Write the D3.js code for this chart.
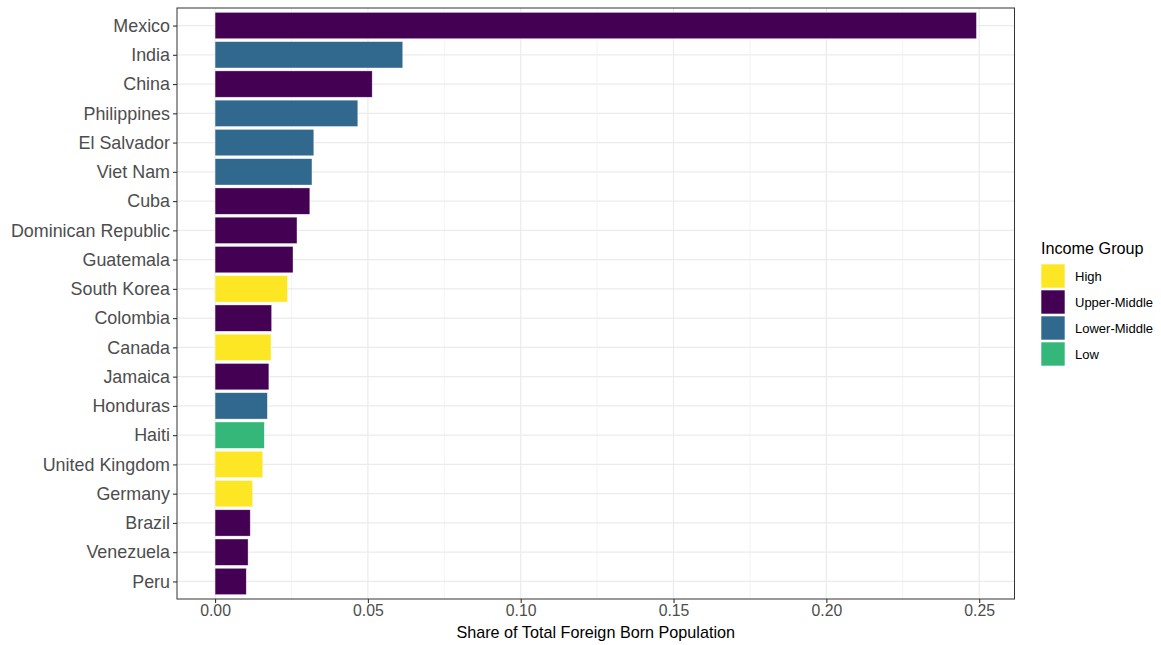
<!DOCTYPE html>
<html><head><meta charset="utf-8">
<script src="https://cdn.jsdelivr.net/npm/d3@7"></script>
<style>body{margin:0;background:#fff;} text{font-family:"Liberation Sans",Arial,Helvetica,sans-serif;}</style>
</head><body>
<svg id="chart" width="1161" height="645"></svg>
<script>
const countries = ["Mexico","India","China","Philippines","El Salvador","Viet Nam","Cuba","Dominican Republic","Guatemala","South Korea","Colombia","Canada","Jamaica","Honduras","Haiti","United Kingdom","Germany","Brazil","Venezuela","Peru"];
const shares = [0.2491,0.0614,0.0514,0.0467,0.0323,0.0317,0.0310,0.0268,0.0255,0.0237,0.0185,0.0183,0.0176,0.0171,0.0161,0.0156,0.0123,0.0115,0.0108,0.0102];
const groups = ["Upper-Middle","Lower-Middle","Upper-Middle","Lower-Middle","Lower-Middle","Lower-Middle","Upper-Middle","Upper-Middle","Upper-Middle","High","Upper-Middle","High","Upper-Middle","Lower-Middle","Low","High","High","Upper-Middle","Upper-Middle","Upper-Middle"];
const legendGroups = ["High","Upper-Middle","Lower-Middle","Low"];
const groupColors = ["#FDE725","#440154","#31688E","#35B779"];
const xTicks = [0,0.05,0.10,0.15,0.20,0.25];
const xMinor = [0.025,0.075,0.125,0.175,0.225];
const xTitle = "Share of Total Foreign Born Population";
const legendTitle = "Income Group";

const data = countries.map((c,i)=>({country:c, share:shares[i], group:groups[i]}));
const svg = d3.select("#chart");
const L=177, R=1014.5, T=8, B=599;
const maxV = d3.max(shares);
const x = d3.scaleLinear().domain([-0.05*maxV, 1.05*maxV]).range([L,R]);
const n = countries.length;
const unit = (B-T)/(n-1+1.2);
const y = d3.scalePoint().domain(countries).range([T+0.6*unit, B-0.6*unit]);
const color = d3.scaleOrdinal().domain(legendGroups).range(groupColors);

const g = svg.append("g");
g.append("rect").attr("x",L).attr("y",T).attr("width",R-L).attr("height",B-T).attr("fill","#fff");
g.selectAll(".minor").data(xMinor).enter().append("line")
 .attr("x1",d=>x(d)).attr("x2",d=>x(d)).attr("y1",T).attr("y2",B)
 .attr("stroke","#ebebeb").attr("stroke-width",0.6);
g.selectAll(".majx").data(xTicks).enter().append("line")
 .attr("x1",d=>x(d)).attr("x2",d=>x(d)).attr("y1",T).attr("y2",B)
 .attr("stroke","#ebebeb").attr("stroke-width",1.2);
g.selectAll(".majy").data(countries).enter().append("line")
 .attr("x1",L).attr("x2",R).attr("y1",d=>y(d)).attr("y2",d=>y(d))
 .attr("stroke","#ebebeb").attr("stroke-width",1.2);
const bh = unit*0.9;
g.selectAll(".bar").data(data).enter().append("rect")
 .attr("x",x(0)).attr("y",d=>y(d.country)-bh/2)
 .attr("width",d=>x(d.share)-x(0)).attr("height",bh)
 .attr("fill",d=>color(d.group)).attr("stroke","#ffffff").attr("stroke-opacity",0.6).attr("stroke-width",0.6);
g.append("rect").attr("x",L).attr("y",T).attr("width",R-L).attr("height",B-T)
 .attr("fill","none").attr("stroke","#333333").attr("stroke-width",1);

const xa = svg.append("g").attr("transform",`translate(0,${B})`)
 .call(d3.axisBottom(x).tickValues(xTicks).tickFormat(d3.format(".2f")).tickSize(4).tickPadding(2));
xa.select(".domain").remove();
xa.selectAll(".tick line").attr("stroke","#333333").attr("stroke-width",1.1);
xa.selectAll(".tick text").attr("fill","#4d4d4d").attr("font-size","15.8px");
const ya = svg.append("g").attr("transform",`translate(${L},0)`)
 .call(d3.axisLeft(y).tickSize(4).tickPadding(3));
ya.select(".domain").remove();
ya.selectAll(".tick line").attr("stroke","#333333").attr("stroke-width",1.1);
ya.selectAll(".tick text").attr("fill","#4d4d4d").attr("font-size","17.9px");

svg.append("text").attr("x",(L+R)/2).attr("y",638).attr("text-anchor","middle")
 .attr("font-size","16.2px").attr("fill","#000").text(xTitle);

const lg = svg.append("g");
lg.append("text").attr("x",1041).attr("y",254).attr("font-size","16.2px").attr("fill","#000").text(legendTitle);
legendGroups.forEach((k,i)=>{
  const yy = 264 + i*26;
  lg.append("rect").attr("x",1041).attr("y",yy).attr("width",24).attr("height",24).attr("fill",color(k))
    .attr("stroke","#fff").attr("stroke-width",0.6);
  lg.append("text").attr("x",1075).attr("y",yy+12).attr("dy","0.35em").attr("font-size","13px").attr("fill","#000").text(k);
});
</script>
</body></html>
